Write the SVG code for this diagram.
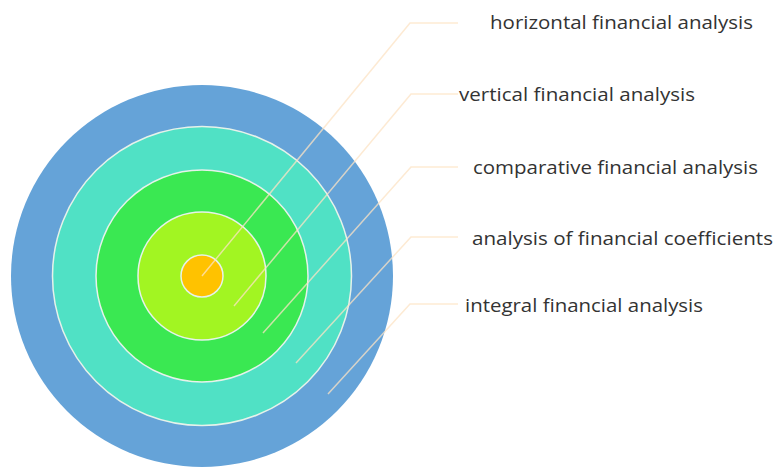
<svg xmlns="http://www.w3.org/2000/svg" width="775" height="467" viewBox="0 0 775 467">
<style>
.ring{stroke:#e6f2ea;stroke-width:1.5}
.lead{fill:none;stroke:#fce3c4;stroke-width:1.5;stroke-opacity:0.75}
.lbl{font-family:"Open Sans","Noto Sans",sans-serif;font-size:19px;fill:#333333}
</style>
<rect width="775" height="467" fill="#ffffff"/>
<g id="ring-integral"><circle cx="202" cy="276" r="191" fill="#65a3d8"/></g>
<g id="ring-coefficients"><circle class="ring" cx="202" cy="276" r="149.5" fill="#50e1c5"/></g>
<g id="ring-comparative"><circle class="ring" cx="202" cy="276" r="106" fill="#3ae852"/></g>
<g id="ring-vertical"><circle class="ring" cx="202" cy="276" r="64" fill="#a2f522"/></g>
<g id="ring-horizontal"><circle class="ring" cx="202" cy="276" r="21" fill="#ffc200"/></g>
<g id="connectors">
<polyline class="lead" points="202,276 410,23 458,23"/>
<polyline class="lead" points="234,306 411,94 458,94"/>
<polyline class="lead" points="263,333 411,167 458,167"/>
<polyline class="lead" points="296,363 411,237 458,237"/>
<polyline class="lead" points="328,394 410,304 458,304"/>
</g>
<g id="label-horizontal"><text class="lbl" x="490" y="29" textLength="263" lengthAdjust="spacingAndGlyphs">horizontal financial analysis</text></g>
<g id="label-vertical"><text class="lbl" x="459" y="101" textLength="236" lengthAdjust="spacingAndGlyphs">vertical financial analysis</text></g>
<g id="label-comparative"><text class="lbl" x="473" y="174" textLength="285" lengthAdjust="spacingAndGlyphs">comparative financial analysis</text></g>
<g id="label-coefficients"><text class="lbl" x="472" y="245" textLength="301" lengthAdjust="spacingAndGlyphs">analysis of financial coefficients</text></g>
<g id="label-integral"><text class="lbl" x="465" y="312" textLength="238" lengthAdjust="spacingAndGlyphs">integral financial analysis</text></g>
</svg>
